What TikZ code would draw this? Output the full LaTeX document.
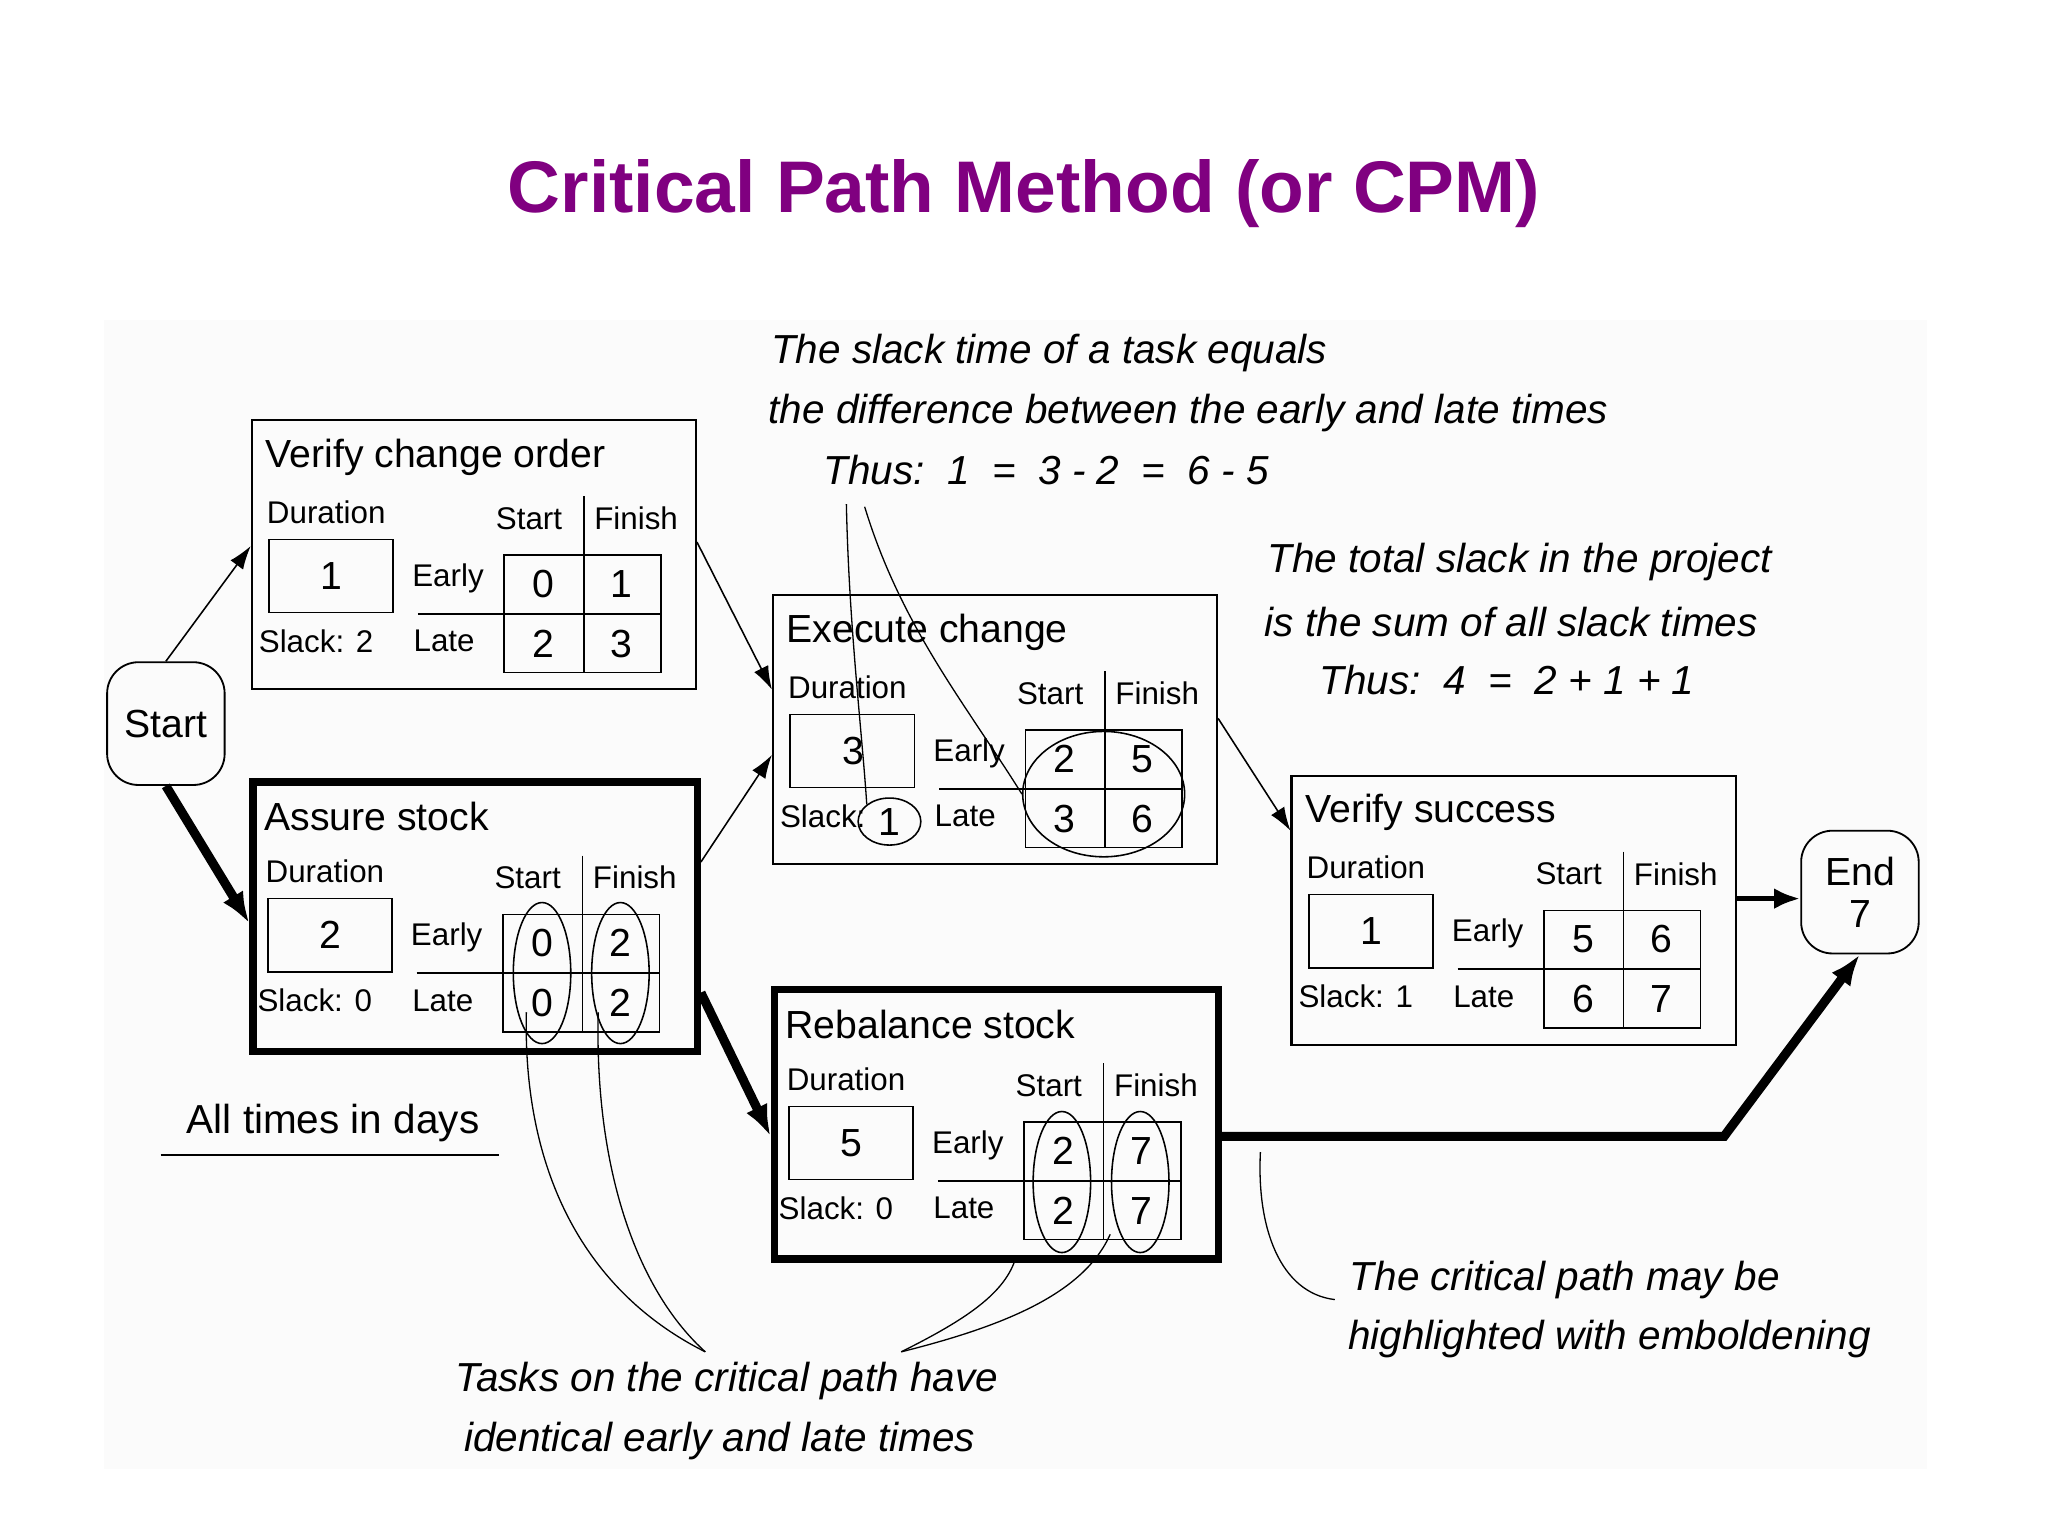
\documentclass[tikz,border=0pt]{standalone}
\usepackage{fontspec}
\setmainfont{Liberation Sans}
\usetikzlibrary{arrows.meta,shapes.geometric}
\definecolor{ttl}{HTML}{800080}
\tikzset{
 thinarr/.style={-{Latex[length=9pt,width=6pt]},line width=0.6pt},
 thickarr/.style={-{Latex[length=12pt,width=9pt]},line width=3.5pt},
 lbl/.style={font=\fontsize{12}{12}\selectfont,inner sep=0pt},
 num/.style={font=\fontsize{15}{15}\selectfont,inner sep=0pt},
 ttxt/.style={font=\fontsize{15}{15}\selectfont,inner sep=0pt,anchor=west},
 note/.style={font=\itshape\fontsize{15.5}{15.5}\selectfont,inner sep=0pt,anchor=west},
 endn/.style={draw,rounded corners=12pt,line width=0.7pt,minimum width=45pt,minimum height=47pt,align=center,font=\fontsize{15}{16}\selectfont},
 pointer/.style={line width=0.5pt},
 ovl/.style={draw,ellipse,line width=0.6pt,inner sep=0pt}
}
\newcommand\tbox[9]{%
 \node[draw,line width=\bw,minimum width=170pt,minimum height=103pt,anchor=north west,inner sep=0pt] (\tname) at (#1,#2) {};
 \node[ttxt] at (#1+11,#2+29) {#3};
 \node[lbl,anchor=west] at (#1+12,#2+71) {Duration};
 \draw[line width=0.6pt] (#1+14,#2+92) rectangle (#1+109,#2+148);
 \node[num] at (#1+62,#2+120) {#4};
 \node[lbl] at (#1+213,#2+76) {Start};
 \node[lbl] at (#1+295,#2+76) {Finish};
 \draw[line width=0.6pt] (#1+255,#2+59) -- (#1+255,#2+194);
 \draw[line width=0.6pt] (#1+194,#2+104) rectangle (#1+314,#2+194);
 \draw[line width=0.6pt] (#1+128,#2+149) -- (#1+314,#2+149);
 \node[lbl] at (#1+151,#2+122) {Early};
 \node[lbl] at (#1+148,#2+170) {Late};
 \node[lbl] at (#1+50,#2+170) {Slack: #5};
 \node[num] at (#1+224,#2+126) {#6};
 \node[num] at (#1+284,#2+126) {#7};
 \node[num] at (#1+224,#2+172) {#8};
 \node[num] at (#1+284,#2+172) {#9};
}
\begin{document}
\begin{tikzpicture}[x=0.5pt,y=-0.5pt]
\useasboundingbox (0,0) rectangle (1568,1176);
\fill[white] (0,0) rectangle (1568,1176);
\fill[black!1.5] (80,245) rectangle (1475,1125);
\node[font=\bfseries\fontsize{28}{28}\selectfont,text=ttl] (title) at (784,148) {Critical Path Method (or CPM)};

\def\bw{0.8pt}\def\tname{vco}
\tbox{192}{321}{Verify change order}{1}{2}{0}{1}{2}{3}
\def\bw{2.8pt}\def\tname{as}
\tbox{191}{596}{Assure stock}{2}{0}{0}{2}{0}{2}
\def\bw{0.8pt}\def\tname{ec}
\tbox{591}{455}{Execute change}{3}{\phantom{1}}{2}{5}{3}{6}
\def\bw{2.8pt}\def\tname{rs}
\tbox{590}{755}{Rebalance stock}{5}{0}{2}{7}{2}{7}
\def\bw{0.8pt}\def\tname{vs}
\tbox{988}{593}{Verify success}{1}{1}{5}{6}{6}{7}

\node[endn] (start) at (127,554) {Start};
\node[endn] (end) at (1424,683) {End\\7};

% ellipses
\node[ovl,minimum width=22pt,minimum height=54pt] (e1) at (415,745) {};
\node[ovl,minimum width=22pt,minimum height=54pt] (e2) at (475,745) {};
\node[ovl,minimum width=22pt,minimum height=54pt] (e3) at (813,905) {};
\node[ovl,minimum width=22pt,minimum height=54pt] (e4) at (873,905) {};
\node[ovl,minimum width=62pt,minimum height=48pt] (e5) at (845,608) {};
\node[ovl,minimum width=24pt,minimum height=18pt] (e6) at (681,629) {};
\node[num] at (681,629) {1};

% arrows
\draw[thinarr] (start.north) -- (vco.west|-0,418);
\draw[thickarr] (start.south) -- (as.west|-0,707);
\draw[thinarr] (vco.east|-0,415) -- (ec.west|-0,528);
\draw[thinarr] (as.east|-0,660) -- (ec.west|-0,578);
\draw[thickarr] (as.east|-0,760) -- (rs.west|-0,870);
\draw[thinarr] (ec.east|-0,550) -- (vs.west|-0,636);
\draw[-{Latex[length=10pt,width=8pt]},line width=2pt] (vs.east|-0,688) -- (end.west|-0,688);
\draw[thickarr] (rs.east|-0,870) -- (1320,870) -- (end.south);

% notes
\node[note] (n1) at (590,270) {The slack time of a task equals};
\node[note] (n2) at (588,316) {the difference between the early and late times};
\node[note] (n3) at (630,360) {Thus:\ \ 1\ \ =\ \ 3 - 2\ \ =\ \ 6 - 5};
\node[note] (n4) at (970,430) {The total slack in the project};
\node[note] (n5) at (968,476) {is the sum of all slack times};
\node[note] (n6) at (1010,521) {Thus:\ \ 4\ \ =\ \ 2 + 1 + 1};
\node[note] (n7) at (348,1057) {Tasks on the critical path have};
\node[note] (n8) at (355,1103) {identical early and late times};
\node[note] (n9) at (1033,980) {The critical path may be};
\node[note] (n10) at (1032,1025) {highlighted with emboldening};
\node[font=\fontsize{15.5}{15.5}\selectfont,inner sep=0pt] (all) at (255,860) {All times in days};
\draw[line width=0.7pt] (123,884) -- (382,884);

\coordinate (p1) at (648,386);
\coordinate (p2) at (662,388);
\draw[pointer] (p1) .. controls (650,480) and (660,560) .. (e6.north west);
\draw[pointer] (p2) .. controls (690,480) and (740,540) .. (e5.west);
\coordinate (q1) at (540,1035);
\coordinate (q2) at (690,1035);
\draw[pointer] (q1) .. controls (450,990) and (400,900) .. (403,775);
\draw[pointer] (q1) .. controls (490,990) and (455,900) .. (458,775);
\draw[pointer] (q2) .. controls (740,1010) and (770,990) .. (778,962);
\draw[pointer] (q2) .. controls (770,1015) and (830,990) .. (850,945);
\draw[pointer] (1022,995) .. controls (980,990) and (962,940) .. (965,882);
\end{tikzpicture}
\end{document}
